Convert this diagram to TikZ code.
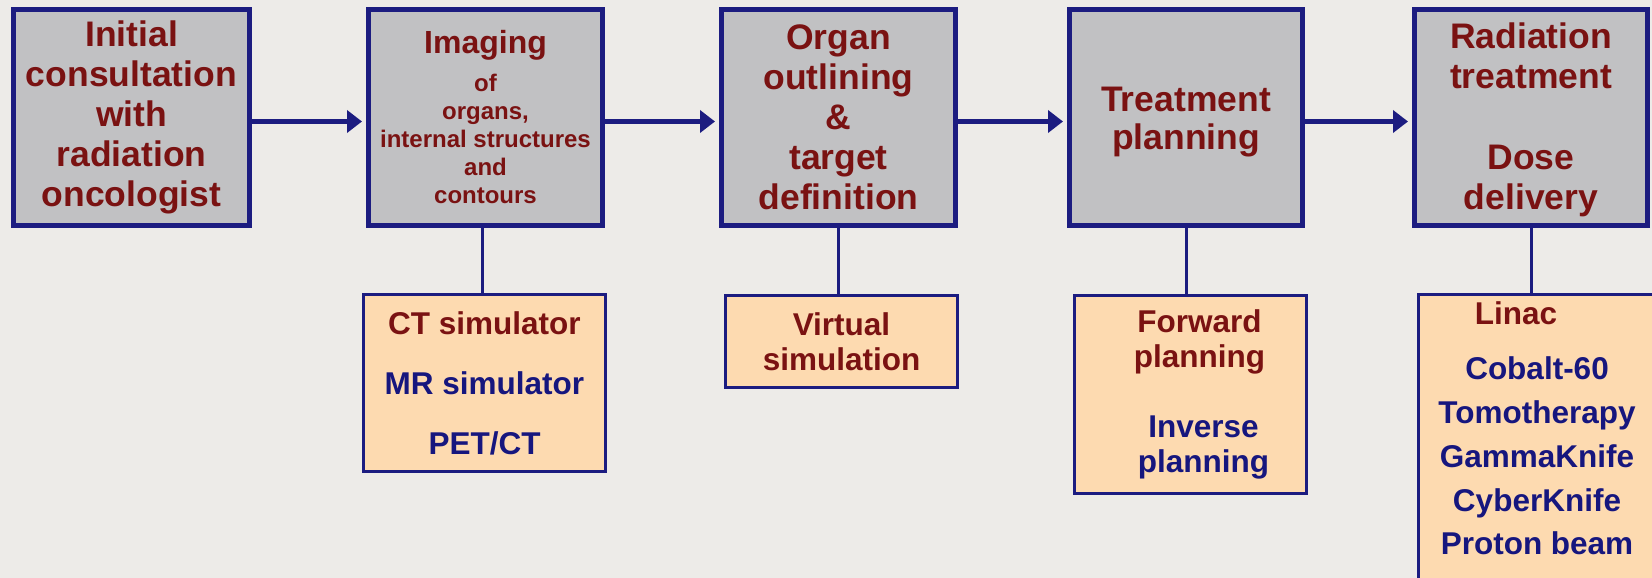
\documentclass[tikz,border=0pt]{standalone}
\usepackage{fontspec}
\setmainfont{Liberation Sans}
\usepackage{tikz}
\usetikzlibrary{arrows.meta}
\definecolor{myred}{HTML}{7A1212}
\definecolor{mynavy}{HTML}{16167E}
\definecolor{myborder}{HTML}{1C1C80}
\definecolor{mygrey}{HTML}{C1C1C3}
\definecolor{mypeach}{HTML}{FDDAB0}
\definecolor{mybg}{HTML}{EDEBE8}

\begin{document}
\begin{tikzpicture}[x=1pt,y=-1pt,
    stage/.style={draw=myborder, line width=5pt, fill=mygrey, text=myred, align=center,
      inner sep=0pt, minimum height=216pt, font=\bfseries\fontsize{35.5}{40}\selectfont},
    tool/.style={draw=myborder, line width=3pt, fill=mypeach, text=myred, align=center,
      inner sep=0pt, minimum width=232pt, font=\bfseries\fontsize{31.5}{35}\selectfont},
    flow/.style={draw=myborder, line width=5pt, -{Triangle[length=15pt,width=22pt]}, shorten >=4pt},
    link/.style={draw=myborder, line width=3pt}
    ]
  \useasboundingbox (0,0) rectangle (1652,578);
  \fill[mybg] (0,0) rectangle (1652,578);
  \clip (0,0) rectangle (1652,578);

  % main steps
  \node[stage, minimum width=236pt] (consult) at (131.5,117.5)
    {Initial\\consultation\\with\\radiation\\oncologist};
  \node[stage, minimum width=234pt, font=\bfseries\fontsize{24}{28}\selectfont] (imaging) at (485.5,117.5)
    {{\fontsize{32}{36}\selectfont Imaging}\\[10pt]of\\organs,\\internal structures\\and\\contours};
  \node[stage, minimum width=234pt] (outline) at (838.5,117.5)
    {Organ\\outlining\\\&\\target\\definition};
  \node[stage, minimum width=233pt] (planning) at (1186,117.5)
    {\rule{0pt}{33pt}Treatment\\[-2pt]planning};
  \node[stage, minimum width=233pt, font=\bfseries\fontsize{35.5}{40.5}\selectfont] (delivery) at (1531,117.5)
    {\rule{0pt}{30pt}Radiation\\treatment\\[40pt]Dose\\delivery};

  % tools
  \node[tool, minimum width=242pt, minimum height=177pt] (imgtools) at (484.5,383)
    {CT simulator\\[25pt]\textcolor{mynavy}{MR simulator}\\[25pt]\textcolor{mynavy}{PET/CT}};
  \node[tool, minimum height=92pt] (virtsim) at (841.5,341.5)
    {Virtual\\simulation};
  \node[tool, minimum height=198pt] (plantools) at (1190.5,394.5)
    {\hspace*{18pt}Forward\\\hspace*{18pt}planning\\[35pt]\color{mynavy}\hspace*{26pt}Inverse\\\color{mynavy}\hspace*{26pt}planning};
  \node[tool, minimum width=237pt, minimum height=349pt] (deltools) at (1537,469) {};
  \node[align=center, inner sep=0pt, text=mynavy, font=\bfseries\fontsize{31.5}{44}\selectfont] (deliverylist) at (1537,428.5)
    {\textcolor{myred}{Linac}\hspace*{42pt}\\[11pt]Cobalt-60\hspace*{20pt}\\Tomotherapy\\GammaKnife\\CyberKnife\\[-1pt]Proton beam};

  % flow
  \draw[flow] ([yshift=-4pt]consult.east) -- ([yshift=-4pt]consult.east -| imaging.west);
  \draw[flow] ([yshift=-4pt]imaging.east) -- ([yshift=-4pt]imaging.east -| outline.west);
  \draw[flow] ([yshift=-4pt]outline.east) -- ([yshift=-4pt]outline.east -| planning.west);
  \draw[flow] ([yshift=-4pt]planning.east) -- ([yshift=-4pt]planning.east -| delivery.west);

  \draw[link] ([xshift=-3pt]imaging.south) -- ([xshift=-3pt]imaging.south |- imgtools.north);
  \draw[link] (outline.south) -- (outline.south |- virtsim.north);
  \draw[link] (planning.south) -- (planning.south |- plantools.north);
  \draw[link] (delivery.south) -- (delivery.south |- deltools.north);
\end{tikzpicture}
\end{document}
